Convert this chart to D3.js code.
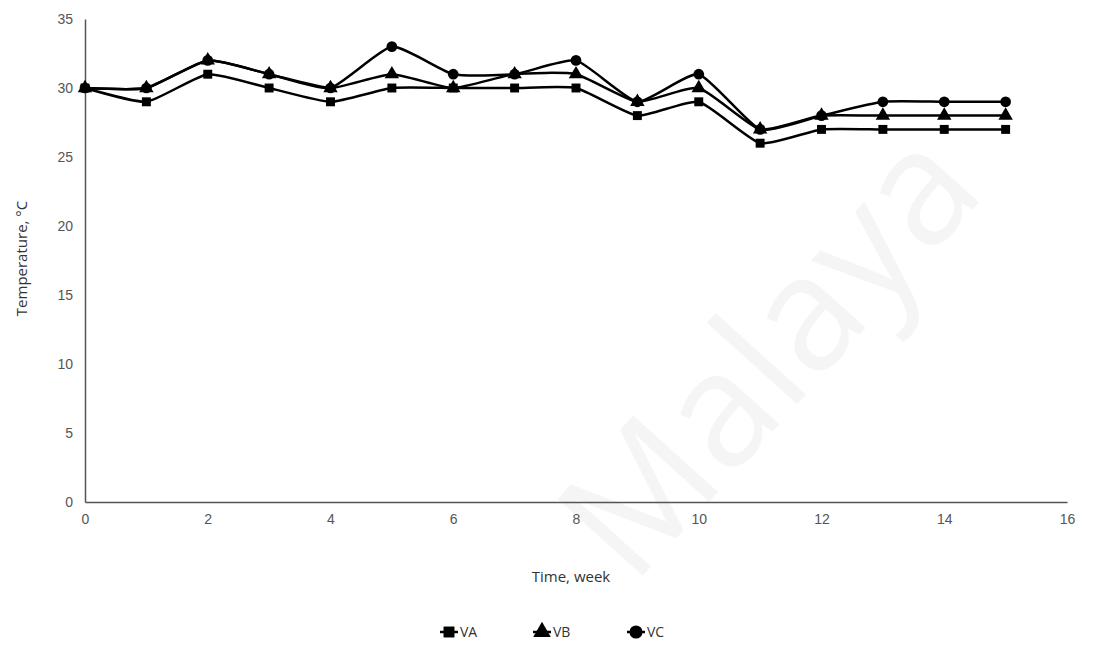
<!DOCTYPE html>
<html>
<head>
<meta charset="utf-8">
<script src="https://cdn.jsdelivr.net/npm/d3@7"></script>
<style>
  body { margin: 0; background: #fff; }
  svg { display: block; font-family: "Open Sans", "Liberation Sans", sans-serif; }
</style>
</head>
<body>
<div id="chart"></div>
<script>
const weeks = [0, 1, 2, 3, 4, 5, 6, 7, 8, 9, 10, 11, 12, 13, 14, 15];
const VA = [30, 29, 31, 30, 29, 30, 30, 30, 30, 28, 29, 26, 27, 27, 27, 27];
const VB = [30, 30, 32, 31, 30, 31, 30, 31, 31, 29, 30, 27, 28, 28, 28, 28];
const VC = [30, 30, 32, 31, 30, 33, 31, 31, 32, 29, 31, 27, 28, 29, 29, 29];
const xTicks = [0, 2, 4, 6, 8, 10, 12, 14, 16];
const yTicks = [0, 5, 10, 15, 20, 25, 30, 35];

const series = [
  { name: "VA", values: VA, symbol: d3.symbolSquare, size: 80 },
  { name: "VB", values: VB, symbol: d3.symbolTriangle, size: 90 },
  { name: "VC", values: VC, symbol: d3.symbolCircle, size: 90 }
];

const W = 1093, H = 648;
const margin = { top: 19, right: 26, bottom: 146, left: 85 };
const width = W - margin.left - margin.right;
const height = H - margin.top - margin.bottom;

const svg = d3.select("#chart").append("svg")
  .attr("width", W)
  .attr("height", H);

// faint watermark
svg.append("text")
  .attr("transform", "translate(810,390) rotate(-48)")
  .attr("text-anchor", "middle")
  .style("font-size", "160px")
  .style("fill", "#f5f5f5")
  .text("Malaya");

const g = svg.append("g")
  .attr("transform", `translate(${margin.left},${margin.top})`);

const x = d3.scaleLinear().domain([0, 16]).range([0, width]);
const y = d3.scaleLinear().domain([0, 35]).range([height, 0]);

// axes
const xAxis = g.append("g")
  .attr("transform", `translate(0,${height})`)
  .call(d3.axisBottom(x).tickValues(xTicks).tickSize(0).tickPadding(12));
const yAxis = g.append("g")
  .call(d3.axisLeft(y).tickValues(yTicks).tickSize(0).tickPadding(12));

[xAxis, yAxis].forEach(a => {
  a.select(".domain").attr("stroke", "#555").attr("stroke-width", 1.5);
  a.selectAll("text").style("font-size", "14px").style("fill", "#555");
});

// axis titles
g.append("text")
  .attr("x", width / 2 - 5)
  .attr("y", height + 80)
  .attr("text-anchor", "middle")
  .style("font-size", "15px")
  .style("fill", "#333")
  .text("Time, week");

g.append("text")
  .attr("transform", "rotate(-90)")
  .attr("x", -(height / 2) + 2)
  .attr("y", -58)
  .attr("text-anchor", "middle")
  .style("font-size", "15px")
  .style("fill", "#333")
  .text("Temperature, °C");

// lines
const line = d3.line()
  .x((d, i) => x(weeks[i]))
  .y(d => y(d))
  .curve(d3.curveCardinal.tension(0.5));

series.forEach(s => {
  g.append("path")
    .datum(s.values)
    .attr("fill", "none")
    .attr("stroke", "#000")
    .attr("stroke-width", 2.5)
    .attr("d", line);

  g.selectAll(null)
    .data(s.values)
    .enter()
    .append("path")
    .attr("transform", (d, i) => `translate(${x(weeks[i])},${y(d)})`)
    .attr("d", d3.symbol().type(s.symbol).size(s.size))
    .attr("fill", "#000");
});

// legend
const legend = svg.append("g")
  .attr("transform", `translate(449,632)`);
const legendX = [0, 93, 187];
series.forEach((s, i) => {
  const item = legend.append("g").attr("transform", `translate(${legendX[i]},0)`);
  item.append("line")
    .attr("x1", -9).attr("x2", 9)
    .attr("stroke", "#000").attr("stroke-width", 2.5);
  item.append("path")
    .attr("d", d3.symbol().type(s.symbol).size(s.size * 1.5))
    .attr("fill", "#000");
  item.append("text")
    .attr("x", 11)
    .attr("dy", "0.35em")
    .style("font-size", "14px")
    .style("fill", "#333")
    .text(s.name);
});
</script>
</body>
</html>
